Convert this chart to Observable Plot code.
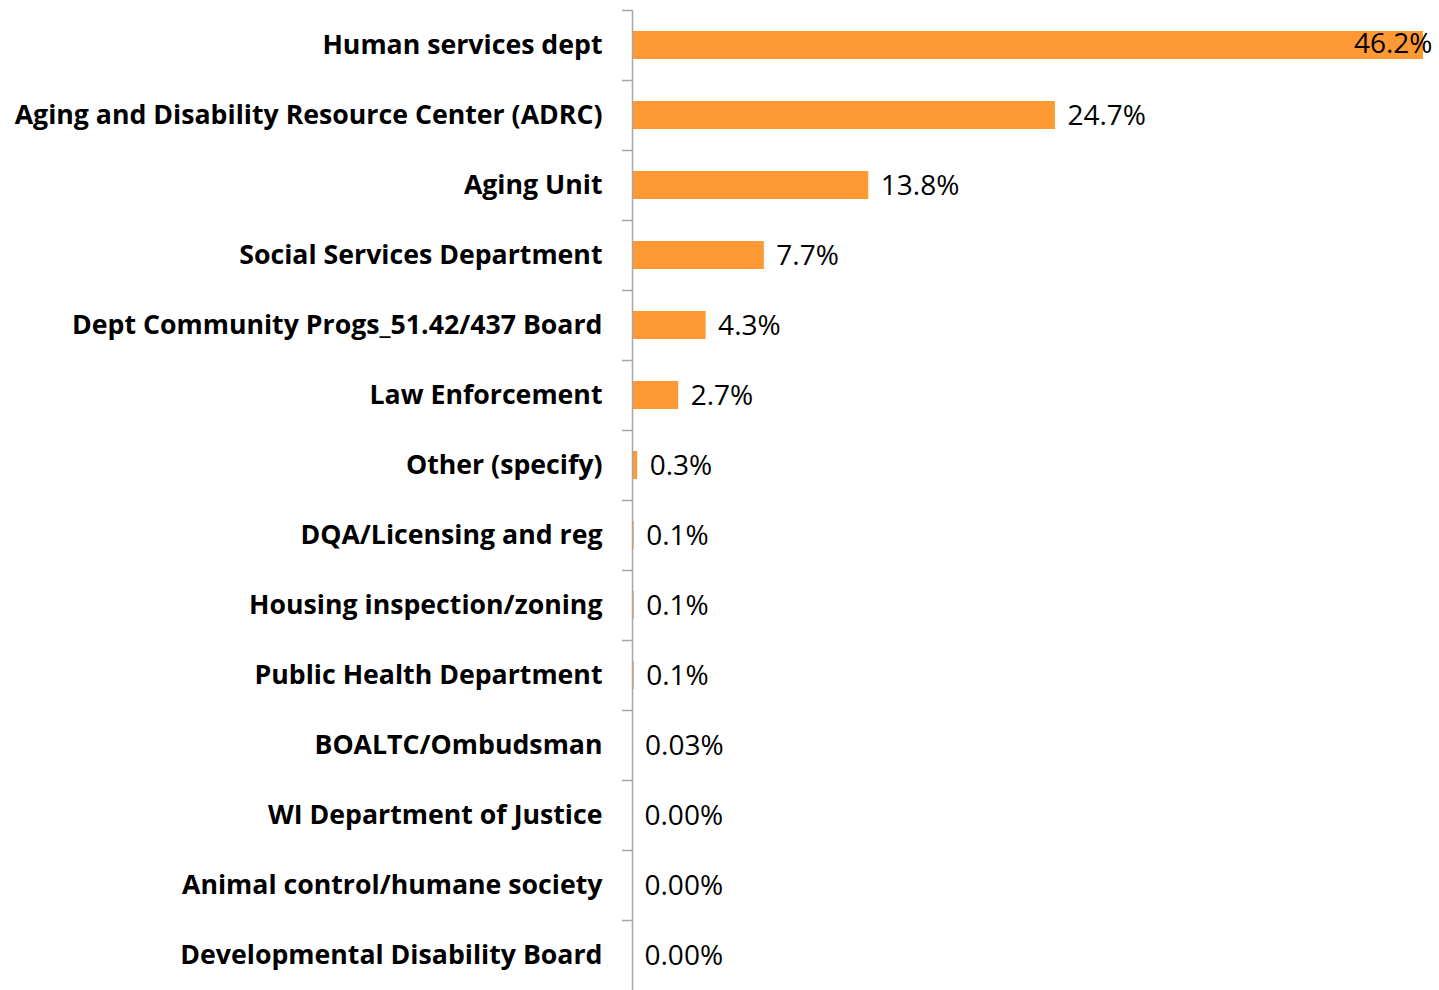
<!DOCTYPE html>
<html>
<head>
<meta charset="utf-8">
<script src="https://cdn.jsdelivr.net/npm/d3@7"></script>
<script src="https://cdn.jsdelivr.net/npm/@observablehq/plot@0.6"></script>
<style>
  html, body { margin: 0; padding: 0; background: #fff; }
  #chart svg { display: block; }
</style>
</head>
<body>
<div id="chart"></div>
<script>
const categories = [
  "Human services dept",
  "Aging and Disability Resource Center (ADRC)",
  "Aging Unit",
  "Social Services Department",
  "Dept Community Progs_51.42/437 Board",
  "Law Enforcement",
  "Other (specify)",
  "DQA/Licensing and reg",
  "Housing inspection/zoning",
  "Public Health Department",
  "BOALTC/Ombudsman",
  "WI Department of Justice",
  "Animal control/humane society",
  "Developmental Disability Board"
];
const values = [46.2, 24.7, 13.8, 7.7, 4.3, 2.7, 0.3, 0.1, 0.1, 0.1, 0.03, 0, 0, 0];
const valueLabels = ["46.2%", "24.7%", "13.8%", "7.7%", "4.3%", "2.7%", "0.3%", "0.1%", "0.1%", "0.1%", "0.03%", "0.00%", "0.00%", "0.00%"];

const data = categories.map((c, i) => ({category: c, value: values[i], label: valueLabels[i]}));
const maxValue = d3.max(values);

const chart = Plot.plot({
  width: 1439,
  height: 990,
  marginTop: 10,
  marginBottom: 0,
  marginLeft: 632,
  marginRight: 16,
  style: {fontFamily: "'Open Sans', sans-serif", background: "#fff"},
  x: {domain: [0, maxValue], axis: null},
  y: {domain: categories, paddingInner: 0.6, paddingOuter: 0.3, label: null},
  marks: [
    Plot.barX(data, {x: "value", y: "category", fill: "#FF9933"}),
    Plot.ruleX([0], {stroke: "#A6A6A6", strokeWidth: 1.5}),
    Plot.axisY({tickSize: 10, text: null, stroke: "#A6A6A6", strokeWidth: 1.5, dy: -35}),
    Plot.axisY({tickSize: 0, tickPadding: 30, fontSize: 26.7, fontWeight: "bold", fill: "#000", label: null, dy: 0}),
    Plot.text(data.filter(d => d.value < maxValue), {
      x: "value", y: "category", text: "label",
      textAnchor: "start", dx: 12, dy: 1, fontSize: 28, fill: "#000"
    }),
    Plot.text(data.filter(d => d.value === maxValue), {
      x: "value", y: "category", text: "label",
      textAnchor: "end", dx: 9, dy: -1, fontSize: 28, fill: "#000"
    })
  ]
});
document.getElementById("chart").appendChild(chart);
</script>
</body>
</html>
